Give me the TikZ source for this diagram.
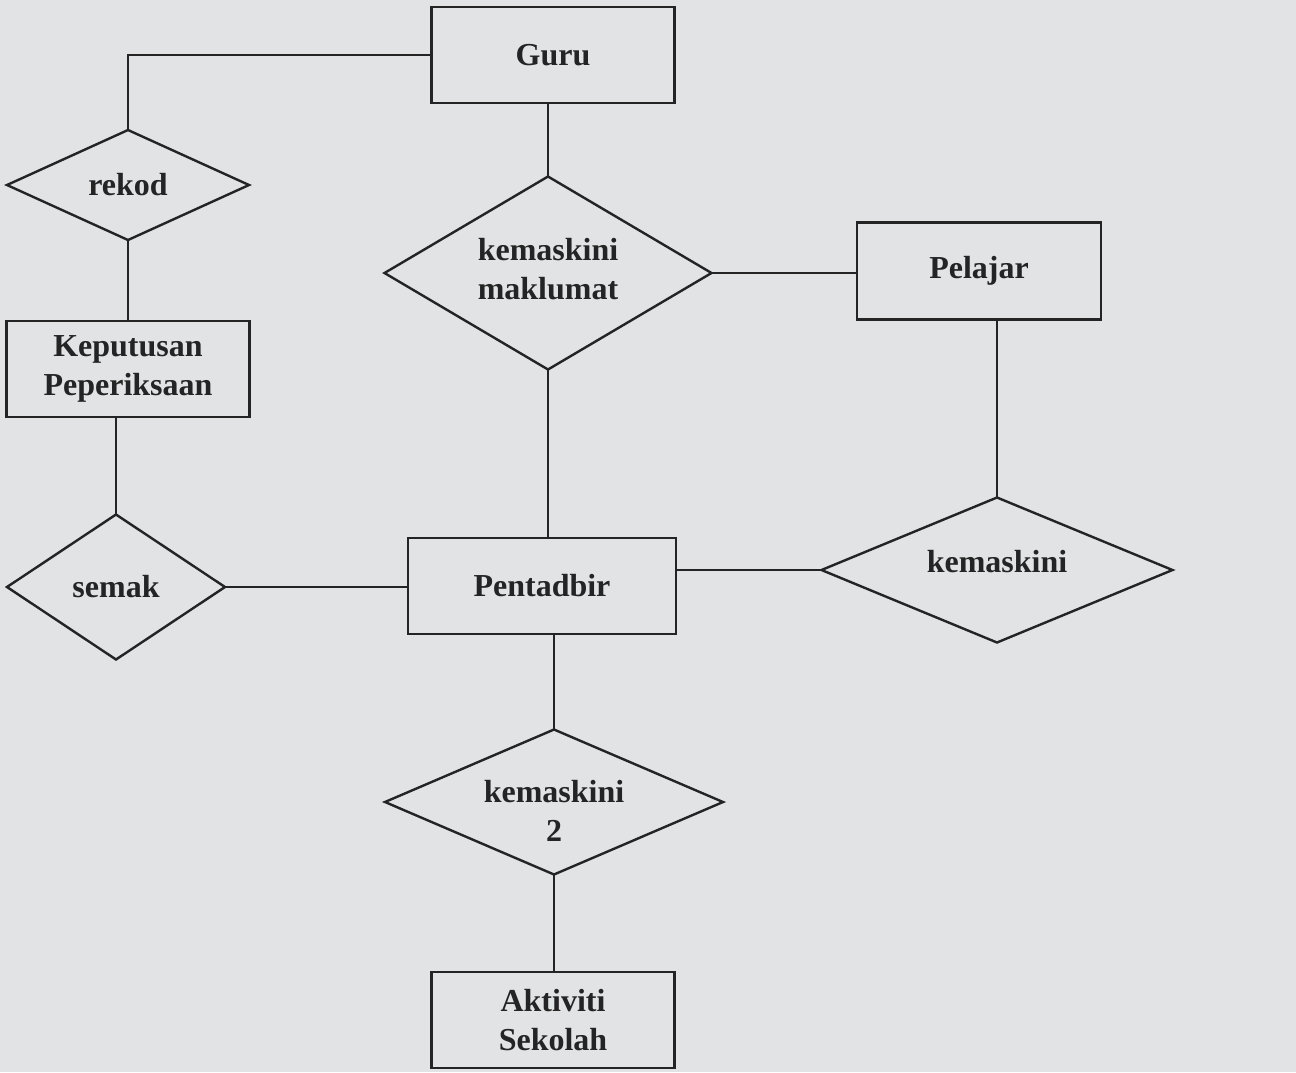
\documentclass[tikz,border=0pt]{standalone}
\usepackage{fontspec}
\setmainfont{Liberation Serif}
\usetikzlibrary{shapes.geometric}
\definecolor{paper}{HTML}{E2E3E5}
\definecolor{ink}{HTML}{242424}
\begin{document}
\begin{tikzpicture}[x=0.75pt,y=-0.75pt,
  txt/.style={font=\fontsize{24}{29}\selectfont\bfseries, text=ink, align=center},
  ent/.style={txt, draw=ink, line width=1.8pt, rectangle, inner sep=0pt},
  rel/.style={draw=ink, line width=1.8pt, diamond, inner sep=0pt, outer sep=0pt},
  conn/.style={draw=ink, line width=1.8pt}]
\fill[paper] (0,0) rectangle (1296,1072);
\useasboundingbox (0,0) rectangle (1296,1072);

\node[ent, minimum width=243*0.75pt, minimum height=96*0.75pt] (guru) at (553,55) {Guru};
\node[rel, minimum width=242*0.75pt, minimum height=110*0.75pt] (rekod) at (128,185) {};
\node[txt] (rekodt) at (rekod.center) {rekod};
\node[ent, minimum width=243*0.75pt, minimum height=96*0.75pt] (kep) at (128,369) {Keputusan\\Peperiksaan};
\node[rel, minimum width=218*0.75pt, minimum height=145*0.75pt] (semak) at (116,587) {};
\node[txt] (semakt) at (semak.center) {semak};
\node[rel, minimum width=327*0.75pt, minimum height=193*0.75pt] (km) at (548,273) {};
\node[txt] (kmt) at (548,269) {kemaskini\\maklumat};
\node[ent, minimum width=244*0.75pt, minimum height=97*0.75pt] (pelajar) at (979,271) {Pelajar};
\node[ent, minimum width=268*0.75pt, minimum height=96*0.75pt] (pentadbir) at (542,586) {Pentadbir};
\node[rel, minimum width=351*0.75pt, minimum height=145*0.75pt] (kr) at (997,570) {};
\node[txt] (krt) at (997,562) {kemaskini};
\node[rel, minimum width=338*0.75pt, minimum height=145*0.75pt] (k2) at (554,802) {};
\node[txt] (k2t) at (554,811) {kemaskini\\2};
\node[ent, minimum width=243*0.75pt, minimum height=96*0.75pt] (akt) at (553,1020) {Aktiviti\\Sekolah};

\draw[conn] (guru.west) -| (rekod.north);
\draw[conn] (rekod.south) -- (rekod.south |- kep.north);
\draw[conn] (semak.north) -- (semak.north |- kep.south);
\draw[conn] (semak.east) -- (semak.east -| pentadbir.west);
\draw[conn] (guru.south -| km.north) -- (km.north);
\draw[conn] (km.east) -- (km.east -| pelajar.west);
\draw[conn] (km.south) -- (km.south |- pentadbir.north);
\draw[conn] (kr.north) -- (kr.north |- pelajar.south);
\draw[conn] (kr.west) -- (kr.west -| pentadbir.east);
\draw[conn] (k2.north |- pentadbir.south) -- (k2.north);
\draw[conn] (k2.south) -- (k2.south |- akt.north);
\end{tikzpicture}
\end{document}
